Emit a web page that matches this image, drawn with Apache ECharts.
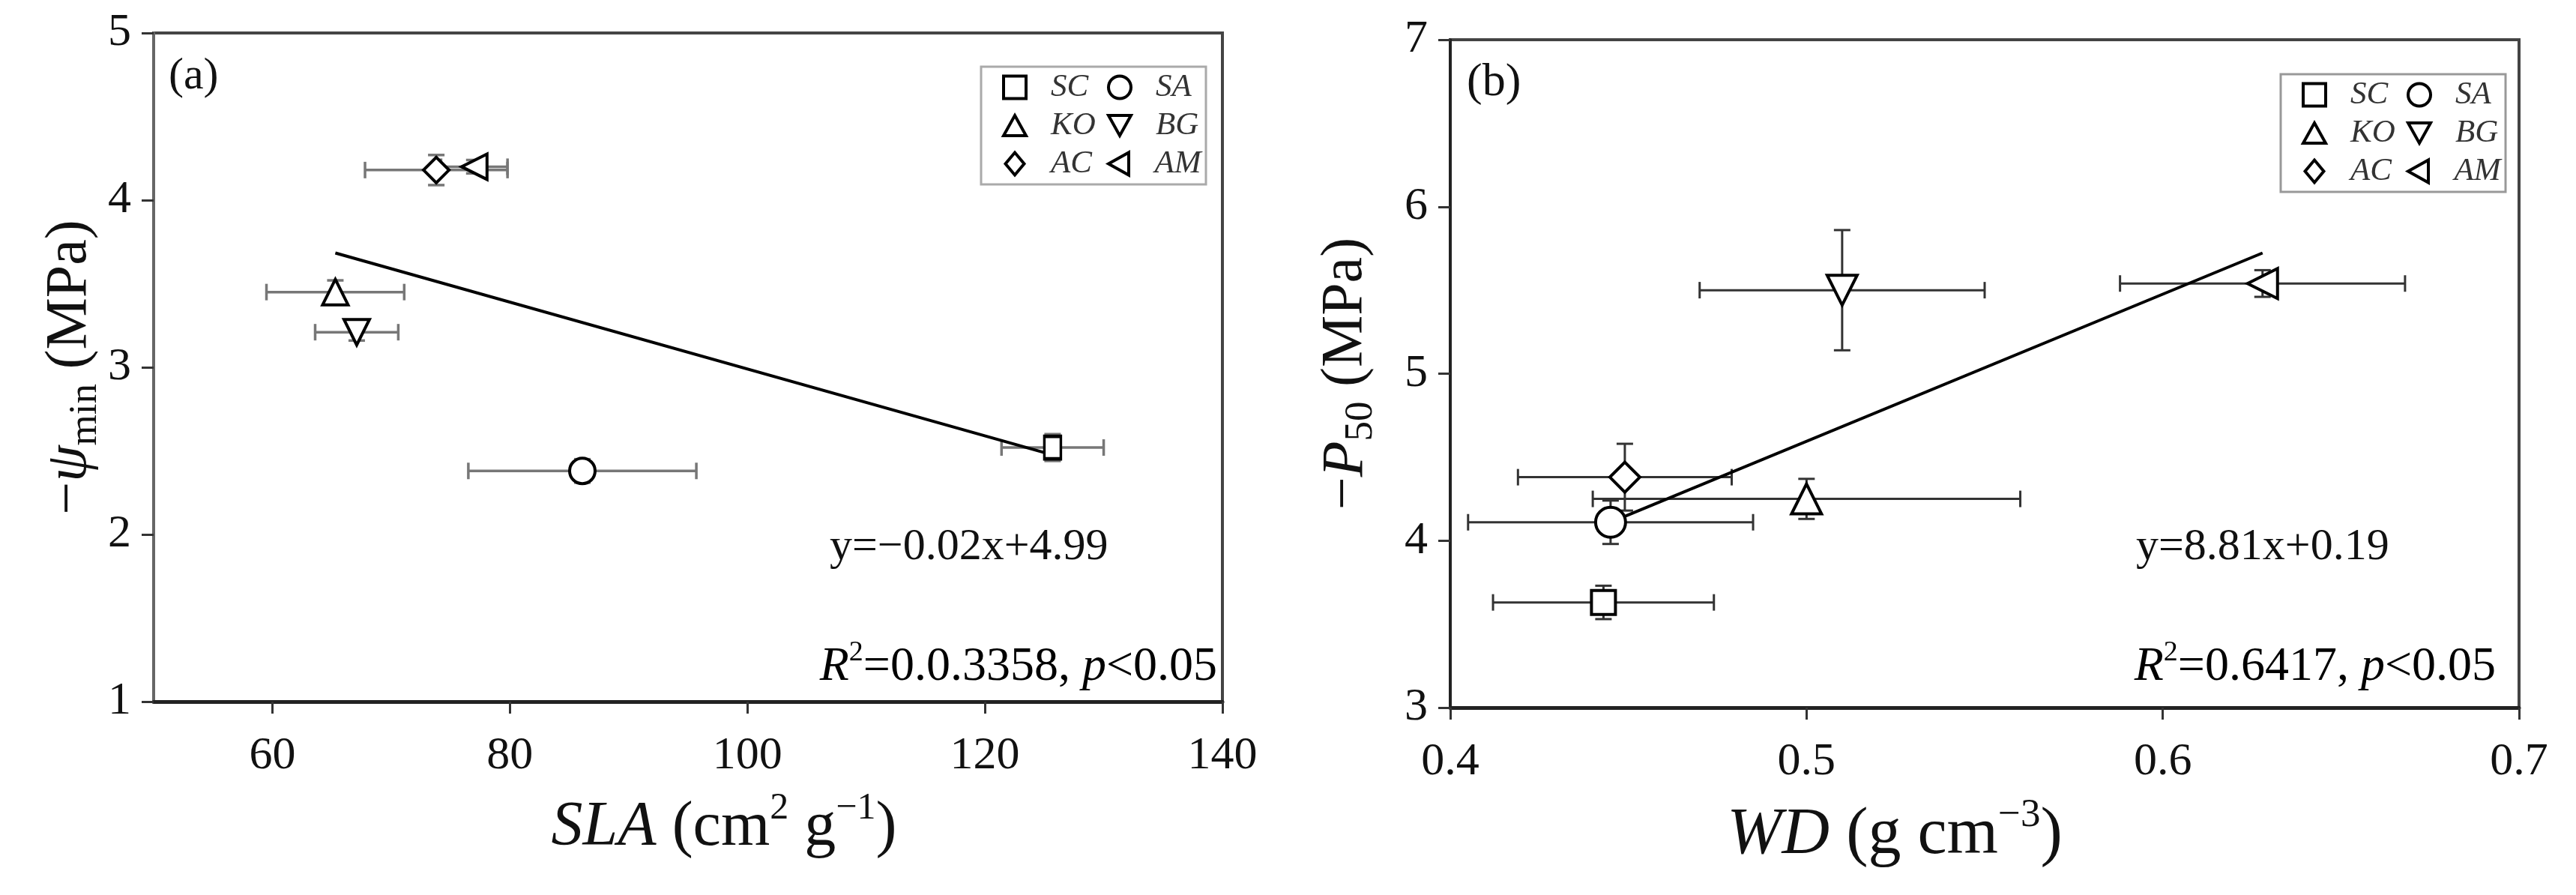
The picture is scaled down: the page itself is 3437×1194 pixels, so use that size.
<!DOCTYPE html>
<html>
<head>
<meta charset="utf-8">
<script src="https://cdn.jsdelivr.net/npm/echarts@6/dist/echarts.min.js"></script>
<style>
html,body{margin:0;padding:0;background:#fff;}
#chart{width:3437px;height:1194px;}
</style>
</head>
<body>
<div id="chart"></div>
<script>
// ---------------- data ----------------
const species   = ['SC', 'SA', 'KO', 'BG', 'AC', 'AM'];
// panel (a): SLA vs -psi_min
const slaMean   = [125.7, 86.1, 65.3, 67.1, 73.8, 77.0];
const slaErr    = [4.3, 9.6, 5.8, 3.5, 6.0, 2.8];
const psiMean   = [2.52, 2.38, 3.45, 3.21, 4.18, 4.20];
const psiErr    = [0.08, 0.07, 0.07, 0.05, 0.09, 0.04];
// panel (b): WD vs -P50
const wdMean    = [0.443, 0.445, 0.500, 0.510, 0.449, 0.628];
const wdErr     = [0.031, 0.040, 0.060, 0.040, 0.030, 0.040];
const p50Mean   = [3.63, 4.11, 4.25, 5.50, 4.38, 5.54];
const p50Err    = [0.10, 0.13, 0.12, 0.36, 0.20, 0.08];
// regression fits: [slope, intercept]
const fitA = [-0.02, 4.99];
const fitB = [8.81, 0.19];
// tick labels
const slaTicks = [60, 80, 100, 120, 140];
const psiTicks = [1, 2, 3, 4, 5];
const wdTicks  = [0.4, 0.5, 0.6, 0.7];
const p50Ticks = [3, 4, 5, 6, 7];
const eqA = 'y=\u22120.02x+4.99';
const eqB = 'y=8.81x+0.19';
const statA = ['0.0.3358', '0.05'];
const statB = ['0.6417', '0.05'];

// ---------------- style ----------------
const FONT = 'Liberation Serif';
const symbols = {
  SC: 'path://M0,0H10V10H0Z',
  SA: 'circle',
  KO: 'path://M5,0L10,9H0Z',
  BG: 'path://M0,0H10L5,9Z',
  AC: 'path://M5,0L10,6L5,12L0,6Z',
  AM: 'path://M9,0V10L0,5Z'
};

function rich(fs, color) {
  color = color || '#111';
  return {
    n:   {fontFamily: FONT, fontSize: fs, lineHeight: Math.round(fs * 1.2), color: color},
    it:  {fontFamily: FONT, fontSize: fs, fontStyle: 'italic', lineHeight: Math.round(fs * 1.2), color: color},
    sup: {fontFamily: FONT, fontSize: Math.round(fs * 0.6), lineHeight: Math.round(fs * 0.7), verticalAlign: 'top', color: color},
    sub: {fontFamily: FONT, fontSize: Math.round(fs * 0.68), lineHeight: Math.round(fs * 0.6), verticalAlign: 'bottom', color: color}
  };
}

const TICK_FS = 62;
const NAME_FS = 84;
const ANN_FS = 60;
const STAT_FS = 64;

function xAxisCfg(grid, min, max, ticks, name, gap, pad, fmt, lineColor, nameFs) {
  return {
    gridIndex: grid, type: 'value', min: min, max: max,
    axisLine: {show: true, onZero: false, lineStyle: {color: lineColor, width: 5}},
    axisTick: {show: true, customValues: ticks, length: 16, lineStyle: {color: '#333', width: 3}},
    axisLabel: {customValues: ticks, margin: 42, fontFamily: FONT, fontSize: TICK_FS, color: '#111',
      formatter: fmt},
    splitLine: {show: false},
    name: name, nameLocation: 'middle', nameGap: gap,
    nameTextStyle: {rich: rich(nameFs), padding: pad}
  };
}
function yAxisCfg(grid, min, max, ticks, name, gap, lineColor) {
  return {
    gridIndex: grid, type: 'value', min: min, max: max,
    axisLine: {show: true, onZero: false, lineStyle: {color: lineColor, width: 4}},
    axisTick: {show: true, customValues: ticks, length: 16, lineStyle: {color: '#333', width: 3}},
    axisLabel: {customValues: ticks, margin: 30, fontFamily: FONT, fontSize: TICK_FS, color: '#111'},
    splitLine: {show: false},
    name: name, nameLocation: 'middle', nameGap: gap, nameRotate: 90,
    nameTextStyle: {rich: rich(78)}
  };
}

function errSeries(axisIdx, data, color, lw, cap) {
  return {
    type: 'custom', xAxisIndex: axisIdx, yAxisIndex: axisIdx, z: 2, silent: true,
    encode: {x: 0, y: 1},
    data: data,
    renderItem: function (params, api) {
      const x = api.value(0), y = api.value(1), xe = api.value(2), ye = api.value(3);
      const l = api.coord([x - xe, y]), r = api.coord([x + xe, y]);
      const t = api.coord([x, y + ye]), b = api.coord([x, y - ye]);
      const st = {stroke: color, lineWidth: lw};
      const ln = (x1, y1, x2, y2) => ({type: 'line', shape: {x1: x1, y1: y1, x2: x2, y2: y2}, style: st});
      return {type: 'group', children: [
        ln(l[0], l[1], r[0], r[1]),
        ln(l[0], l[1] - cap, l[0], l[1] + cap),
        ln(r[0], r[1] - cap, r[0], r[1] + cap),
        ln(t[0], t[1], b[0], b[1]),
        ln(t[0] - cap, t[1], t[0] + cap, t[1]),
        ln(b[0] - cap, b[1], b[0] + cap, b[1])
      ]};
    }
  };
}

function fitLine(axisIdx, fit, xs) {
  const x0 = Math.min.apply(null, xs), x1 = Math.max.apply(null, xs);
  return {
    type: 'line', xAxisIndex: axisIdx, yAxisIndex: axisIdx, z: 3, silent: true,
    symbol: 'none',
    lineStyle: {color: '#000', width: 4},
    data: [[x0, fit[0] * x0 + fit[1]], [x1, fit[0] * x1 + fit[1]]]
  };
}

function scatterSeries(axisIdx, xs, ys, size, scSize) {
  return species.map((s, i) => ({
    type: 'scatter', name: s, xAxisIndex: axisIdx, yAxisIndex: axisIdx, z: 5,
    symbol: symbols[s], symbolSize: s === 'SC' ? scSize : size,
    itemStyle: {color: '#fff', borderColor: '#000', borderWidth: 4, opacity: 1},
    data: [[xs[i], ys[i]]]
  }));
}

function legendCfg(left, top, borderColor) {
  return {
    data: species, left: left, top: top, width: 300,
    orient: 'horizontal', selectedMode: false,
    itemWidth: 30, itemHeight: 30, itemGap: 8,
    padding: [6, 0, 6, 28],
    backgroundColor: '#fff', borderColor: borderColor, borderWidth: 3,
    itemStyle: {color: '#fff', borderColor: '#000', borderWidth: 4},
    textStyle: {fontFamily: FONT, fontStyle: 'italic', fontSize: 43, color: '#333',
      width: 46, lineHeight: 35, overflow: 'none', padding: [0, 21, 0, 28]}
  };
}

const errA = species.map((s, i) => [slaMean[i], psiMean[i], slaErr[i], psiErr[i]]);
const errB = species.map((s, i) => [wdMean[i], p50Mean[i], wdErr[i], p50Err[i]]);

const option = {
  animation: false,
  backgroundColor: '#fff',
  grid: [
    {left: 205, top: 44, width: 1426, height: 892, show: true, borderColor: '#444', borderWidth: 4, backgroundColor: 'transparent'},
    {left: 1935, top: 53, width: 1426, height: 891, show: true, borderColor: '#444', borderWidth: 4, backgroundColor: 'transparent'}
  ],
  xAxis: [
    xAxisCfg(0, 50, 140, slaTicks, '{it|SLA}{n| (cm}{sup|2}{n| g}{sup|\u22121}{n|)}', 118, [0, 0, 0, 96], v => String(v), '#222', 84),
    xAxisCfg(1, 0.4, 0.7, wdTicks, '{it|WD}{n| (g cm}{sup|\u22123}{n|)}', 118, [0, 240, 0, 0], v => v.toFixed(1), '#222', 88)
  ],
  yAxis: [
    yAxisCfg(0, 1, 5, psiTicks, '{n|\u2212}{it|\u03c8}{sub|min}{n| (MPa)}', 56, '#666'),
    yAxisCfg(1, 3, 7, p50Ticks, '{n|\u2212}{it|P}{sub|50}{n| (MPa)}', 92, '#222')
  ],
  legend: [legendCfg(1309, 89, '#aaa'), legendCfg(3043, 99, '#999')],
  graphic: [
    {type: 'text', left: 225, top: 72, style: {text: '(a)', fontFamily: FONT, fontSize: 60, fill: '#111'}},
    {type: 'text', left: 1957, top: 80, style: {text: '(b)', fontFamily: FONT, fontSize: 62, fill: '#111'}},
    {type: 'text', left: 1107, top: 700, style: {text: eqA, fontFamily: FONT, fontSize: ANN_FS, fill: '#111'}},
    {type: 'text', left: 2850, top: 700, style: {text: eqB, fontFamily: FONT, fontSize: ANN_FS, fill: '#111'}},
    {type: 'text', right: 3437 - 1624, top: 852, style: {
      text: '{it|R}{sup|2}{n|=' + statA[0] + ', }{it|p}{n|<' + statA[1] + '}', rich: rich(STAT_FS)}},
    {type: 'text', right: 3437 - 3330, top: 852, style: {
      text: '{it|R}{sup|2}{n|=' + statB[0] + ', }{it|p}{n|<' + statB[1] + '}', rich: rich(STAT_FS)}}
  ],
  series: [
    errSeries(0, errA, '#777', 3.5, 11),
    errSeries(1, errB, '#333', 3, 11),
    fitLine(0, fitA, slaMean),
    fitLine(1, fitB, wdMean)
  ].concat(scatterSeries(0, slaMean, psiMean, 34, [22, 30]), scatterSeries(1, wdMean, p50Mean, 40, 32))
};

const chart = echarts.init(document.getElementById('chart'), null, {renderer: 'canvas'});
chart.setOption(option);
</script>
</body>
</html>
